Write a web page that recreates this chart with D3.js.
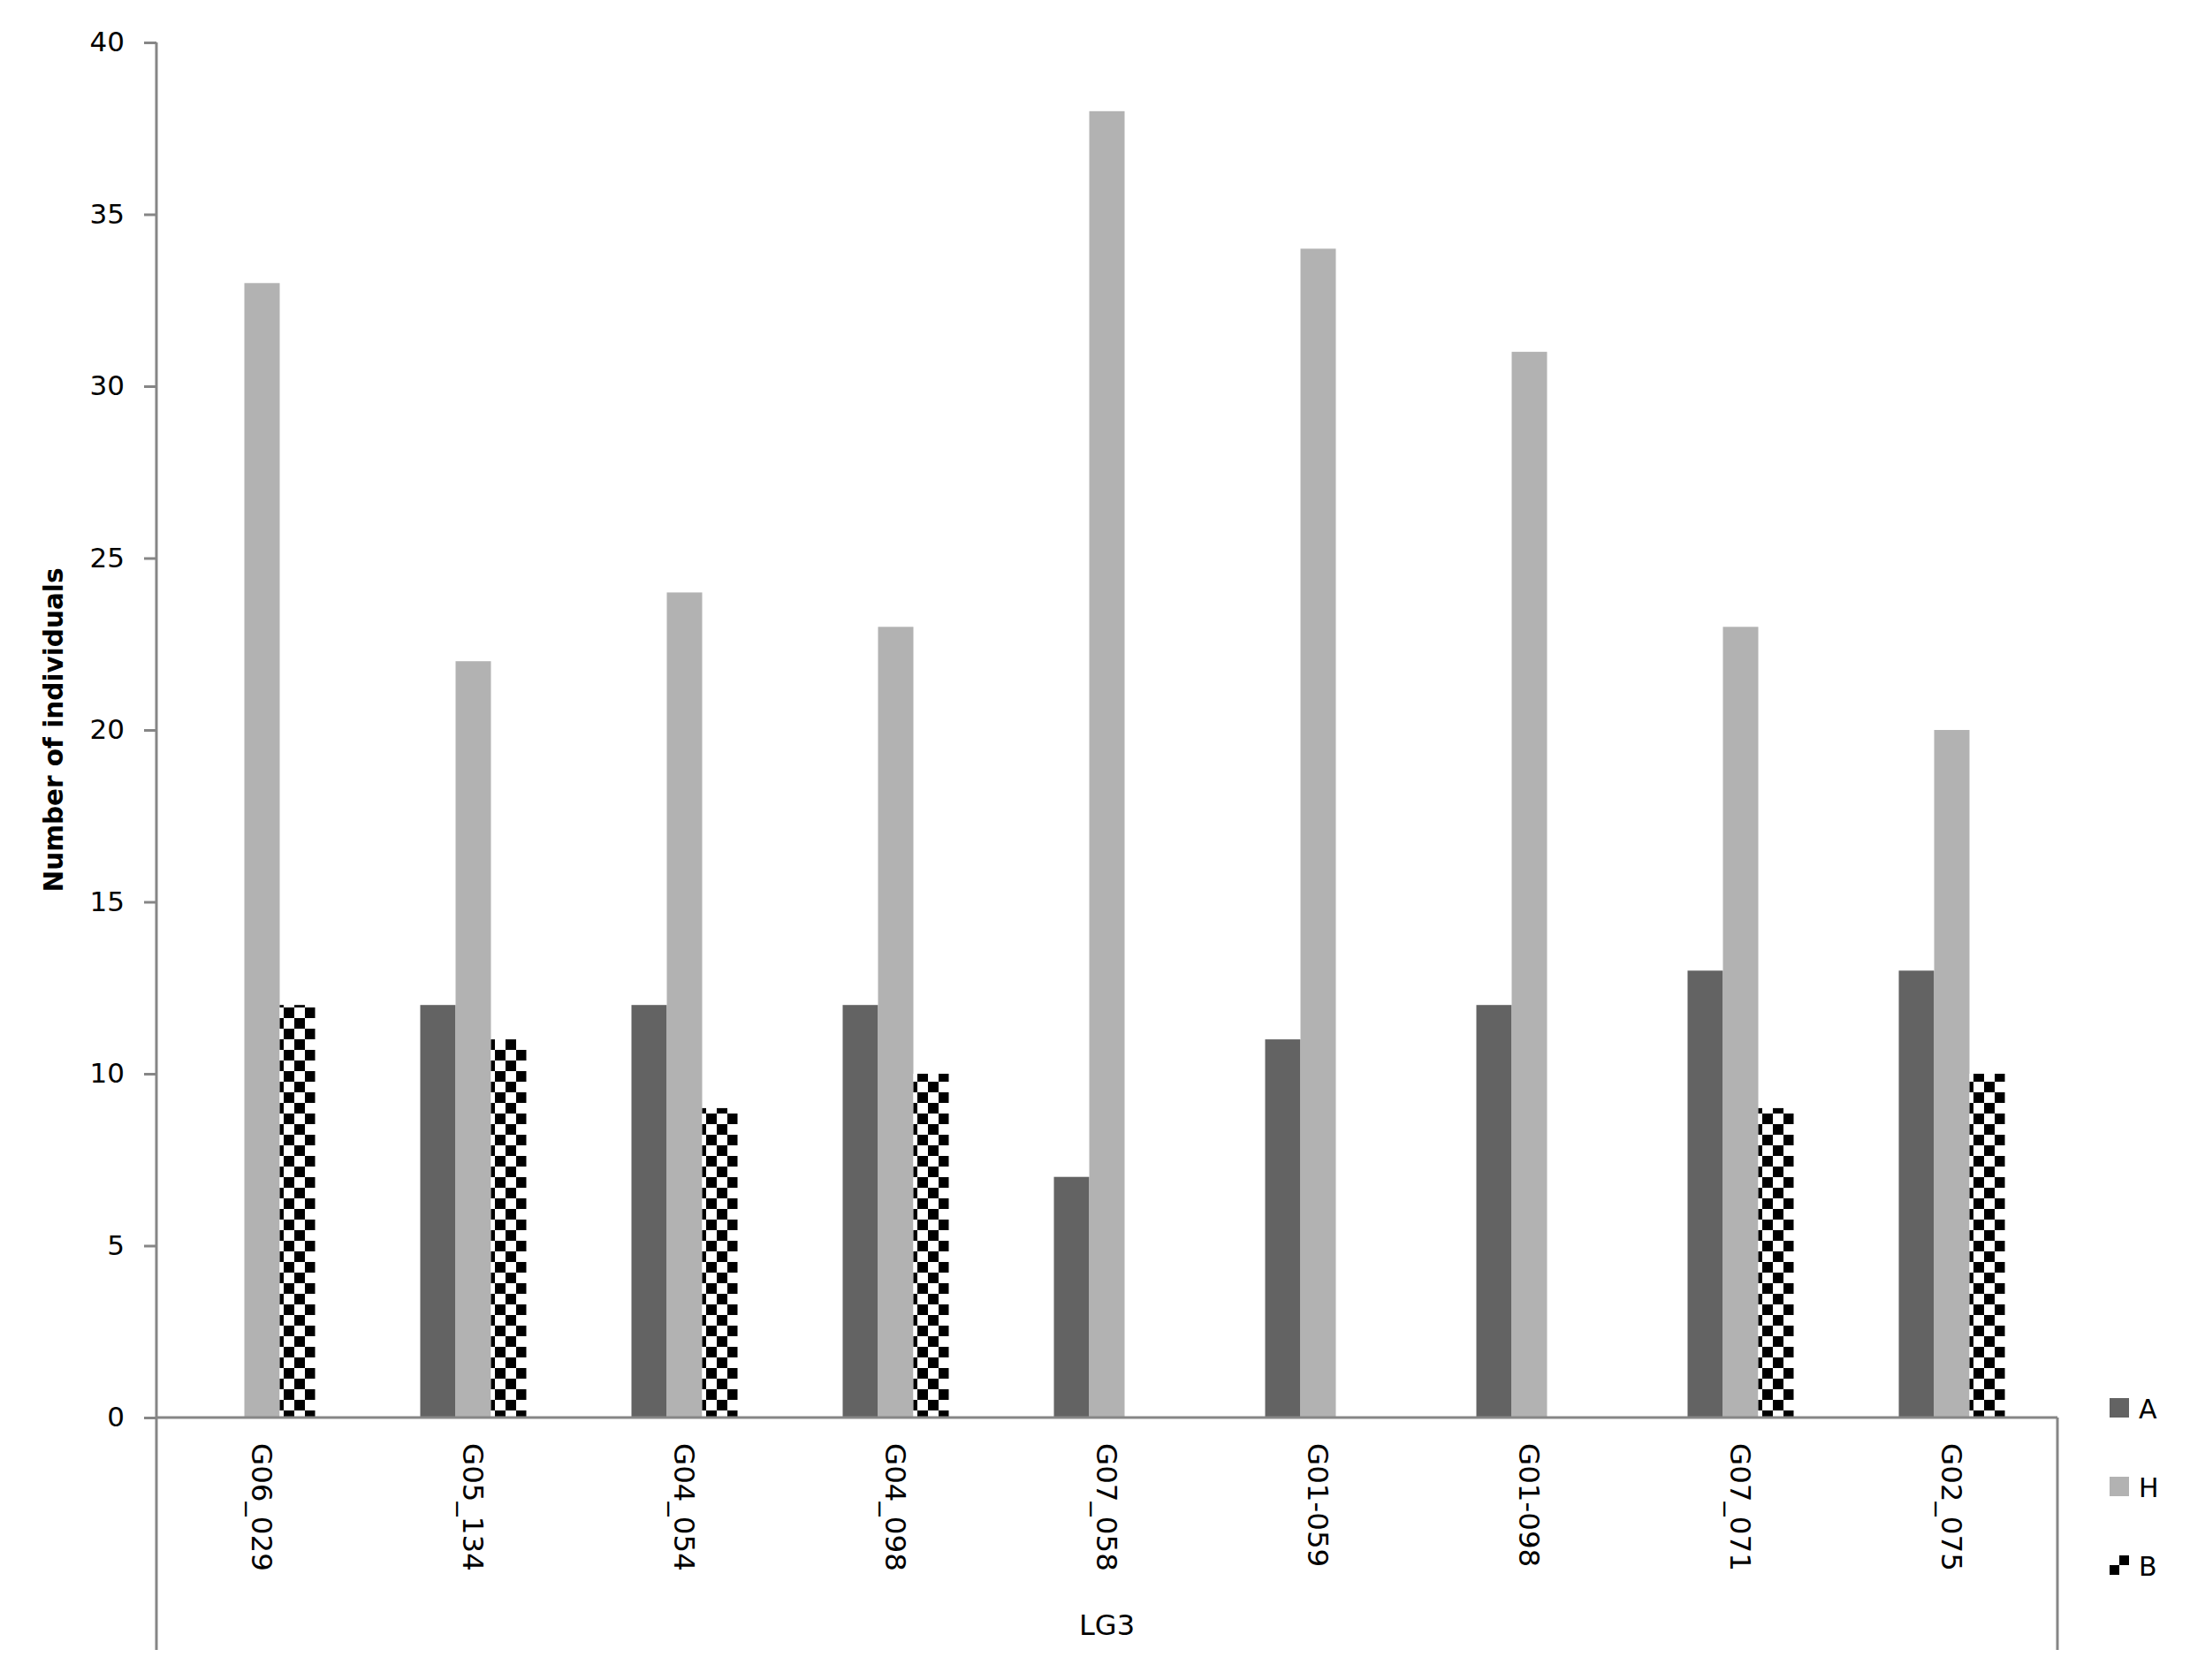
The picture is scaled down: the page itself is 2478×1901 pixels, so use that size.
<!DOCTYPE html>
<html>
<head>
<meta charset="utf-8">
<script src="https://cdn.jsdelivr.net/npm/d3@7"></script>
<style>
  body { margin: 0; background: #fff; }
  text { font-family: "DejaVu Sans", Verdana, sans-serif; }
</style>
</head>
<body>
<div id="chart"></div>
<script>
const WIDTH = 2478;
const HEIGHT = 1901;

const categories = ["G06_029", "G05_134", "G04_054", "G04_098", "G07_058", "G01-059", "G01-098", "G07_071", "G02_075"];
const seriesNames = ["A", "H", "B"];
const valuesA = [0, 12, 12, 12, 7, 11, 12, 13, 13];
const valuesH = [33, 22, 24, 23, 38, 34, 31, 23, 20];
const valuesB = [12, 11, 9, 10, 0, 0, 0, 9, 10];
const yTicks = [0, 5, 10, 15, 20, 25, 30, 35, 40];
const groupLabel = "LG3";
const yTitle = "Number of individuals";

const seriesValues = { A: valuesA, H: valuesH, B: valuesB };
const fills = { A: "#636363", H: "#b2b2b2", B: "url(#checker)" };

const PLOT = { LEFT: 177, RIGHT: 2328, TOP: 48, BOTTOM: 1604, FRAME_BOTTOM: 1867 };
const AXIS_COLOR = "#868686";

const svg = d3.select("#chart")
    .append("svg")
    .attr("width", WIDTH)
    .attr("height", HEIGHT);

const defs = svg.append("defs");
const checker = defs.append("pattern")
    .attr("id", "checker")
    .attr("patternUnits", "userSpaceOnUse")
    .attr("width", 24)
    .attr("height", 24);
checker.append("rect").attr("width", 24).attr("height", 24).attr("fill", "#fff");
checker.append("rect").attr("x", 12).attr("y", 0).attr("width", 12).attr("height", 12).attr("fill", "#000");
checker.append("rect").attr("x", 0).attr("y", 12).attr("width", 12).attr("height", 12).attr("fill", "#000");

const legendChecker = defs.append("pattern")
    .attr("id", "legendChecker")
    .attr("patternUnits", "userSpaceOnUse")
    .attr("width", 22)
    .attr("height", 22);
legendChecker.append("rect").attr("width", 22).attr("height", 22).attr("fill", "#fff");
legendChecker.append("rect").attr("x", 11).attr("y", 0).attr("width", 11).attr("height", 11).attr("fill", "#000");
legendChecker.append("rect").attr("x", 0).attr("y", 11).attr("width", 11).attr("height", 11).attr("fill", "#000");

const x0 = d3.scaleBand()
    .domain(categories)
    .range([PLOT.LEFT, PLOT.RIGHT]);

const bw = x0.bandwidth();
const x1 = d3.scaleBand()
    .domain(seriesNames)
    .range([bw / 2 - 60, bw / 2 + 60]);

const y = d3.scaleLinear()
    .domain([0, 40])
    .range([PLOT.BOTTOM, PLOT.TOP]);

// bars
const groups = svg.append("g")
    .selectAll("g")
    .data(categories)
    .join("g")
    .attr("transform", d => `translate(${x0(d)},0)`);

groups.selectAll("rect")
    .data((c, i) => seriesNames.map(s => ({ s, v: seriesValues[s][i] })))
    .join("rect")
    .attr("x", d => x1(d.s))
    .attr("width", x1.bandwidth())
    .attr("y", d => y(d.v))
    .attr("height", d => y(0) - y(d.v))
    .attr("fill", d => fills[d.s]);

// y axis
const yAxis = svg.append("g")
    .attr("transform", `translate(${PLOT.LEFT},0)`)
    .call(d3.axisLeft(y).tickValues(yTicks).tickSize(14).tickPadding(22));
yAxis.select(".domain").remove();
yAxis.selectAll(".tick line").attr("stroke", AXIS_COLOR).attr("stroke-width", 3);
yAxis.selectAll(".tick text")
    .attr("font-size", 31)
    .attr("font-family", "DejaVu Sans, sans-serif")
    .attr("fill", "#000");

// axis frame lines
svg.append("line")
    .attr("x1", PLOT.LEFT).attr("x2", PLOT.LEFT)
    .attr("y1", PLOT.TOP).attr("y2", PLOT.FRAME_BOTTOM)
    .attr("stroke", AXIS_COLOR).attr("stroke-width", 3);
svg.append("line")
    .attr("x1", PLOT.LEFT).attr("x2", PLOT.RIGHT)
    .attr("y1", y(0)).attr("y2", y(0))
    .attr("stroke", AXIS_COLOR).attr("stroke-width", 3);
svg.append("line")
    .attr("x1", PLOT.RIGHT).attr("x2", PLOT.RIGHT)
    .attr("y1", y(0)).attr("y2", PLOT.FRAME_BOTTOM)
    .attr("stroke", AXIS_COLOR).attr("stroke-width", 3);

// category labels, rotated
svg.append("g")
    .selectAll("text")
    .data(categories)
    .join("text")
    .attr("transform", d => `translate(${x0(d) + bw / 2},1633) rotate(90)`)
    .attr("dy", "0.35em")
    .attr("font-size", 32.5)
    .attr("fill", "#000")
    .text(d => d);

svg.append("text")
    .attr("x", (PLOT.LEFT + PLOT.RIGHT) / 2)
    .attr("y", 1850)
    .attr("text-anchor", "middle")
    .attr("font-size", 32)
    .attr("fill", "#000")
    .text(groupLabel);

// y title
svg.append("text")
    .attr("transform", `translate(71,${(PLOT.TOP + PLOT.BOTTOM) / 2}) rotate(-90)`)
    .attr("text-anchor", "middle")
    .attr("font-size", 31)
    .attr("font-weight", "bold")
    .attr("textLength", 367)
    .attr("lengthAdjust", "spacingAndGlyphs")
    .attr("fill", "#000")
    .text(yTitle);

// legend
const legendFills = { A: "#636363", H: "#b2b2b2", B: "url(#legendChecker)" };
const legend = svg.append("g")
    .selectAll("g")
    .data(seriesNames)
    .join("g")
    .attr("transform", (d, i) => `translate(2387,${1582 + i * 89})`);
legend.append("rect")
    .attr("width", 22)
    .attr("height", 22)
    .attr("fill", d => legendFills[d]);
legend.append("text")
    .attr("x", 33)
    .attr("y", 23)
    .attr("font-size", 30)
    .attr("fill", "#000")
    .text(d => d);
</script>
</body>
</html>
